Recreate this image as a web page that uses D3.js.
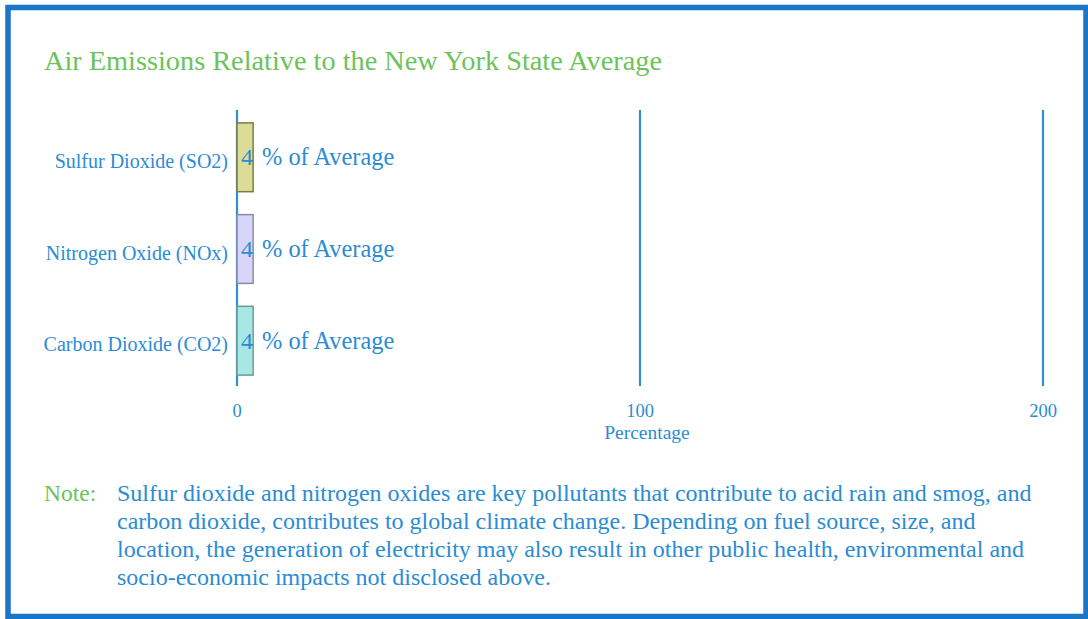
<!DOCTYPE html>
<html>
<head>
<script src="https://cdn.jsdelivr.net/npm/d3@7"></script>
</head>
<body style="margin:0">
<div id="container"></div>
<script>
  // data
  var categories = ["Sulfur Dioxide (SO2)", "Nitrogen Oxide (NOx)", "Carbon Dioxide (CO2)"]
  var values = [4, 4, 4]
  var fills = ["#dcdc98", "#d8d6f8", "#a8e8e4"]
  var strokes = ["#7e7c3c", "#8c88a8", "#6a9c94"]
  var ticks = [0, 100, 200]
  var noteLines = [
    "Sulfur dioxide and nitrogen oxides are key pollutants that contribute to acid rain and smog, and",
    "carbon dioxide, contributes to global climate change. Depending on fuel source, size, and",
    "location, the generation of electricity may also result in other public health, environmental and",
    "socio-economic impacts not disclosed above."
  ]

  var W = 1088, H = 619
  var blue = "#2a8cd4", green = "#6cc35a"
  var fontName = "Liberation Serif"

  var svg = d3.select("#container").append("svg")
      .attr("width", W).attr("height", H)
      .style("font-family", fontName)

  // frame
  svg.append("rect")
      .attr("x", 8).attr("y", 7.5)
      .attr("width", 1078).attr("height", 609)
      .attr("fill", "none")
      .attr("stroke", "#1a76c6")
      .attr("stroke-width", 5.5)

  svg.append("text")
      .attr("x", 44).attr("y", 70)
      .attr("fill", green)
      .style("font-size", "28.3px")
      .text("Air Emissions Relative to the New York State Average")

  var x = d3.scaleLinear().domain([0, 200]).range([237, 1043])
  var y = d3.scaleBand().domain(categories).range([111, 387]).paddingInner(0.25).paddingOuter(0.13)

  // grid lines at ticks
  svg.selectAll(".grid")
      .data(ticks)
      .enter().append("line")
      .attr("x1", d => x(d)).attr("x2", d => x(d))
      .attr("y1", 110).attr("y2", 386)
      .attr("stroke", "#2f8ed6")
      .attr("stroke-width", 2.2)

  // tick labels
  svg.selectAll(".tick")
      .data(ticks)
      .enter().append("text")
      .attr("x", d => x(d)).attr("y", 417)
      .attr("text-anchor", "middle")
      .attr("fill", blue)
      .style("font-size", "18.5px")
      .text(d => d)

  svg.append("text")
      .attr("x", 647).attr("y", 439)
      .attr("text-anchor", "middle")
      .attr("fill", blue)
      .style("font-size", "19.5px")
      .text("Percentage")

  // bars
  var rows = categories.map((c, i) => ({ name: c, value: values[i], fill: fills[i], stroke: strokes[i] }))

  var g = svg.selectAll(".row").data(rows).enter().append("g")

  g.append("rect")
      .attr("x", x(0)).attr("y", d => y(d.name))
      .attr("width", d => x(d.value) - x(0))
      .attr("height", y.bandwidth())
      .attr("fill", d => d.fill)
      .attr("stroke", d => d.stroke)
      .attr("stroke-width", 1.5)

  g.append("text")
      .attr("x", 228).attr("y", d => y(d.name) + y.bandwidth() / 2 + 10.5)
      .attr("text-anchor", "end")
      .attr("fill", blue)
      .style("font-size", "20px")
      .text(d => d.name)

  g.append("text")
      .attr("x", d => x(d.value)).attr("y", d => y(d.name) + y.bandwidth() / 2 + 8)
      .attr("text-anchor", "end")
      .attr("fill", blue)
      .style("font-size", "24px")
      .text(d => d.value)

  g.append("text")
      .attr("x", 262).attr("y", d => y(d.name) + y.bandwidth() / 2 + 8)
      .attr("fill", blue)
      .style("font-size", "24.4px")
      .text("% of Average")

  // note
  svg.append("text")
      .attr("x", 44).attr("y", 501)
      .attr("fill", green)
      .style("font-size", "23.5px")
      .text("Note:")

  svg.selectAll(".note")
      .data(noteLines)
      .enter().append("text")
      .attr("x", 117).attr("y", (d, i) => 501 + i * 28)
      .attr("fill", blue)
      .style("font-size", "24px")
      .text(d => d)
</script>
</body>
</html>
